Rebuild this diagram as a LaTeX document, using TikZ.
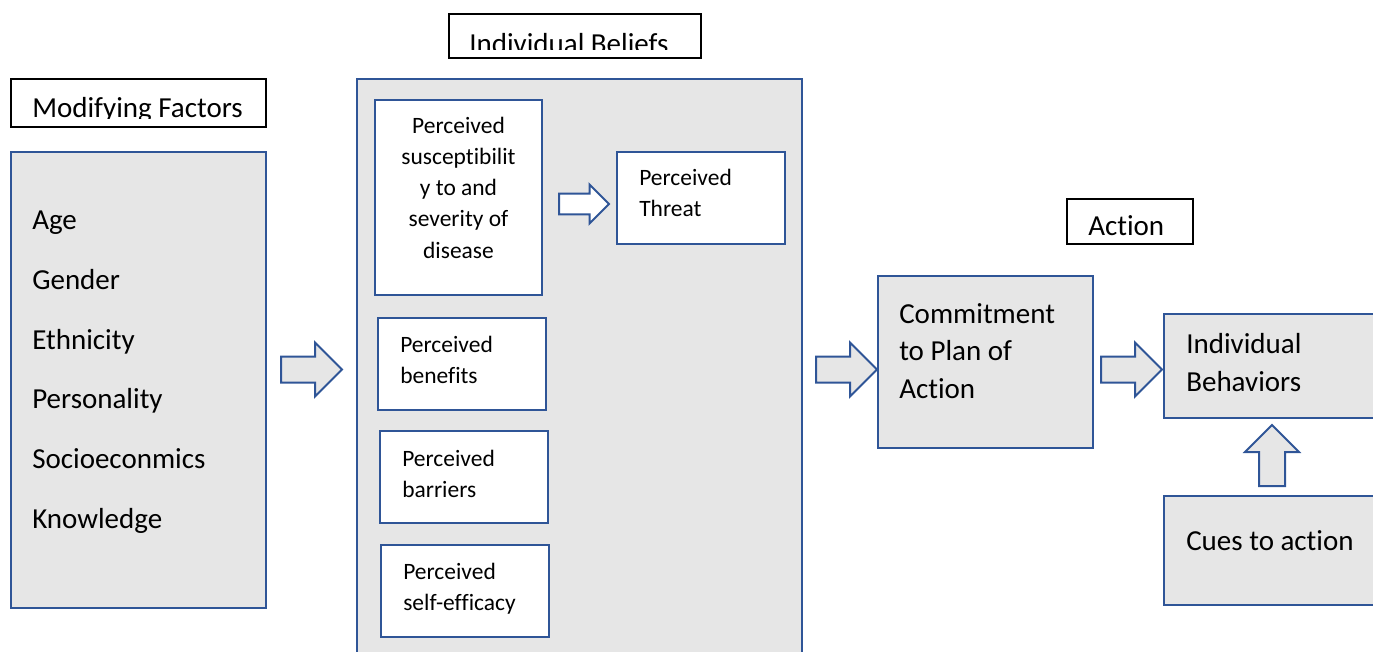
\documentclass[tikz,border=0pt]{standalone}
\usepackage{fontspec}
\setmainfont{Carlito}[Ligatures={NoCommon}]
\usetikzlibrary{shapes.arrows,fit}

\definecolor{frameblue}{HTML}{2F5597}
\definecolor{panelgray}{HTML}{E6E6E6}

% sizes below are in pixels of a 1373 x 652 canvas (1px = 0.75pt)
\newcommand{\bigfont}{\fontsize{21.75pt}{28pt}\selectfont}
\newcommand{\smallfont}{\fontsize{17.6pt}{23.25pt}\selectfont}

\tikzset{
  panel/.style={draw=frameblue, line width=1.5pt, fill=panelgray, inner sep=0pt},
  whitebox/.style={draw=frameblue, line width=1.5pt, fill=white, inner sep=0pt},
  titlebox/.style={draw=black, line width=1.2pt, fill=white, inner sep=0pt},
  bigtext/.style={font=\bigfont, inner sep=0pt, anchor=base west},
  smalltext/.style={font=\smallfont, inner sep=0pt, anchor=base west},
  blockarrow/.style={single arrow, draw=frameblue, line width=1.5pt, fill=panelgray,
    inner xsep=0pt, inner ysep=9pt, single arrow head extend=10.5pt,
    single arrow tip angle=90, minimum height=45.75pt, anchor=tail},
  smallarrow/.style={single arrow, draw=frameblue, line width=1.5pt, fill=white,
    inner xsep=0pt, inner ysep=7.1pt, single arrow head extend=6.75pt,
    single arrow tip angle=90, minimum height=37.5pt, anchor=tail}
}

\begin{document}
\begin{tikzpicture}[x=0.75pt, y=-0.75pt]
  \useasboundingbox (0,0) rectangle (1373,652);
  \clip (0,0) rectangle (1373,652);

  % ---- Modifying factors column ----
  \node[titlebox, fit={(11,79)(266,127)}] (modtitle) {};
  \begin{scope}
    \clip (11,79) rectangle (266,118.5);
    \node[bigtext] (modtitletext) at (32,117.5) {Modifying Factors};
  \end{scope}
  \node[panel, fit={(11,152)(266,608)}] (modbox) {};
  \node[bigtext] (age) at (32,230) {Age};
  \node[bigtext] (gender) at (32,289.6) {Gender};
  \node[bigtext] (ethnicity) at (32,349.2) {Ethnicity};
  \node[bigtext] (personality) at (32,408.8) {Personality};
  \node[bigtext] (socio) at (32,468.4) {Socioeconmics};
  \node[bigtext] (knowledge) at (32,528) {Knowledge};

  \node[blockarrow] (arrowA) at (280,369.5) {};

  % ---- Individual beliefs panel ----
  \node[titlebox, fit={(449,14)(701,58)}] (beltitle) {};
  \begin{scope}
    \clip (449,14) rectangle (701,50);
    \node[bigtext] (beltitletext) at (469,54) {Individual Beliefs};
  \end{scope}
  \node[panel, fit={(357,79)(802,700)}] (belbox) {};

  \node[whitebox, fit={(375,100)(542,295)}] (suscbox) {};
  \node[smalltext, anchor=base] (susc1) at (458.5,134) {Perceived};
  \node[smalltext, anchor=base] (susc2) at (458.5,165) {susceptibilit};
  \node[smalltext, anchor=base] (susc3) at (458.5,196) {y to and};
  \node[smalltext, anchor=base] (susc4) at (458.5,227) {severity of};
  \node[smalltext, anchor=base] (susc5) at (458.5,258) {disease};

  \node[smallarrow] (arrowS) at (558,204) {};

  \node[whitebox, fit={(617,152)(785,244)}] (threatbox) {};
  \node[smalltext] (threat1) at (639,186) {Perceived};
  \node[smalltext] (threat2) at (639,217) {Threat};

  \node[whitebox, fit={(378,318)(546,410)}] (benbox) {};
  \node[smalltext] (ben1) at (400,352) {Perceived};
  \node[smalltext] (ben2) at (400,383) {benefits};

  \node[whitebox, fit={(380,431)(548,523)}] (barbox) {};
  \node[smalltext] (bar1) at (402,466) {Perceived};
  \node[smalltext] (bar2) at (402,497) {barriers};

  \node[whitebox, fit={(381,545)(549,637)}] (effbox) {};
  \node[smalltext] (eff1) at (403,579) {Perceived};
  \node[smalltext] (eff2) at (403,610) {self-efficacy};

  \node[blockarrow] (arrowB) at (815,369.5) {};

  % ---- Action column ----
  \node[titlebox, fit={(1067,199)(1193,244)}] (acttitle) {};
  \node[bigtext] (acttitletext) at (1088,236) {Action};

  \node[panel, fit={(878,276)(1093,448)}] (commitbox) {};
  \node[bigtext] (commit1) at (899,323) {Commitment};
  \node[bigtext] (commit2) at (899,360.5) {to Plan of};
  \node[bigtext] (commit3) at (899,398) {Action};

  \node[blockarrow] (arrowC) at (1100,369.5) {};

  \node[panel, fit={(1164,314)(1400,418)}] (behavbox) {};
  \node[bigtext] (behav1) at (1186,353) {Individual};
  \node[bigtext] (behav2) at (1186,391) {Behaviors};

  \node[blockarrow, rotate=90] (arrowU) at (1272,487) {};

  \node[panel, fit={(1164,496)(1400,605)}] (cuesbox) {};
  \node[bigtext] (cues) at (1186,550) {Cues to action};
\end{tikzpicture}
\end{document}
